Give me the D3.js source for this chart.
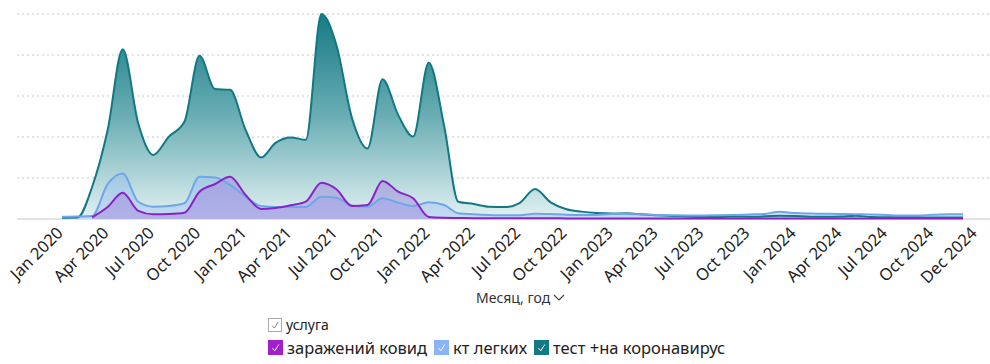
<!DOCTYPE html>
<html>
<head>
<meta charset="utf-8">
<script src="https://cdn.jsdelivr.net/npm/d3@7"></script>
<style>
  body { margin: 0; background: #fff; }
  svg { display: block; font-family: "Noto Sans", "Open Sans", sans-serif; }
</style>
</head>
<body>
<div id="chart"></div>
<script>
// monthly series, Jan 2020 .. Dec 2024
const months = d3.timeMonth.range(new Date(2020, 0, 1), new Date(2025, 0, 1));

const testCovid = [
  32, 37, 780, 2170, 4140, 2330, 1560, 2010, 2370, 3980, 3170, 3150,
  2170, 1500, 1850, 1990, 1930, 5000, 4240, 2460, 1720, 3410, 2540, 2010,
  3810, 2250, 420, 365, 300, 290, 390, 730, 407, 244, 180, 146,
  134, 139, 115, 90, 73, 61, 49, 49, 61, 56, 65, 80,
  73, 56, 54, 61, 80, 49, 41, 41, 41, 37, 37, 37
];
const ctLungs = [
  56, 61, 73, 850, 1110, 420, 300, 317, 383, 1030, 1010, 830,
  545, 317, 293, 293, 293, 545, 520, 330, 300, 505, 400, 317,
  407, 341, 139, 115, 98, 90, 90, 130, 122, 105, 98, 98,
  122, 122, 110, 98, 90, 85, 85, 90, 98, 110, 122, 178,
  146, 134, 129, 122, 115, 110, 98, 85, 85, 102, 115, 115
];
const infections = [
  null, null, 41, 293, 640, 200, 115, 122, 154, 666, 854, 1030,
  585, 244, 268, 334, 422, 885, 724, 317, 341, 927, 666, 505,
  49, 30, 25, 20, 20, 18, 18, 20, 18, 15, 15, 15,
  12, 12, 12, 12, 12, 12, 12, 12, 12, 12, 12, 12,
  12, 12, 12, 12, 12, 12, 12, 12, 12, 12, 12, 12
];

const tickLabels = [
  "Jan 2020", "Apr 2020", "Jul 2020", "Oct 2020", "Jan 2021", "Apr 2021",
  "Jul 2021", "Oct 2021", "Jan 2022", "Apr 2022", "Jul 2022", "Oct 2022",
  "Jan 2023", "Apr 2023", "Jul 2023", "Oct 2023", "Jan 2024", "Apr 2024",
  "Jul 2024", "Oct 2024", "Dec 2024"
];
const gridValues = [1000, 2000, 3000, 4000, 5000];

const legendTitle = "услуга";
const seriesNames = ["заражений ковид", "кт легких", "тест +на коронавирус"];
const seriesColors = ["#a020d0", "#8ab4f8", "#137a85"];

const width = 990;
const height = 364;

const svg = d3.select("#chart").append("svg")
  .attr("width", width)
  .attr("height", height);

const x = d3.scaleTime()
  .domain([months[0], months[months.length - 1]])
  .range([62, 963]);

const y = d3.scaleLinear()
  .domain([0, 5000])
  .range([219, 14]);

const defs = svg.append("defs");
const tealGrad = defs.append("linearGradient")
  .attr("id", "tealGrad")
  .attr("gradientUnits", "userSpaceOnUse")
  .attr("x1", 0).attr("x2", 0)
  .attr("y1", y(5000)).attr("y2", y(0));
tealGrad.append("stop").attr("offset", "0%").attr("stop-color", "#167a84");
tealGrad.append("stop").attr("offset", "50%").attr("stop-color", "#6aaeb4");
tealGrad.append("stop").attr("offset", "100%").attr("stop-color", "#e2f1f2");

// gridlines
svg.append("g")
  .selectAll("line")
  .data(gridValues)
  .join("line")
  .attr("x1", 17)
  .attr("x2", 990)
  .attr("y1", d => y(d))
  .attr("y2", d => y(d))
  .attr("stroke", "#c8c8c8")
  .attr("stroke-dasharray", "2,3");

// baseline
svg.append("line")
  .attr("x1", 17)
  .attr("x2", 990)
  .attr("y1", y(0))
  .attr("y2", y(0))
  .attr("stroke", "#c8c8c8")
  .attr("stroke-width", 1);

const curve = d3.curveMonotoneX;

function area(values) {
  return d3.area()
    .defined((d, i) => values[i] !== null)
    .x((d, i) => x(months[i]))
    .y0(y(0))
    .y1((d, i) => y(values[i]))
    .curve(curve)(values);
}
function line(values) {
  return d3.line()
    .defined((d, i) => values[i] !== null)
    .x((d, i) => x(months[i]))
    .y((d, i) => y(values[i]))
    .curve(curve)(values);
}

svg.append("path").attr("d", area(testCovid)).attr("fill", "url(#tealGrad)");
svg.append("path").attr("d", area(ctLungs)).attr("fill", "#8fb4f5").attr("fill-opacity", 0.35);
svg.append("path").attr("d", area(infections)).attr("fill", "#9c7fdc").attr("fill-opacity", 0.45);

svg.append("path").attr("d", line(testCovid))
  .attr("fill", "none").attr("stroke", "#137883").attr("stroke-width", 2);
svg.append("path").attr("d", line(ctLungs))
  .attr("fill", "none").attr("stroke", "#6ea6ea").attr("stroke-width", 2);
svg.append("path").attr("d", line(infections))
  .attr("fill", "none").attr("stroke", "#8a22c8").attr("stroke-width", 2);

// x tick labels
const parseTick = d3.timeParse("%b %Y");
svg.append("g")
  .selectAll("text")
  .data(tickLabels)
  .join("text")
  .attr("transform", (d, i) => {
    const tx = x(parseTick(d)) + (i === tickLabels.length - 1 ? 15 : 2);
    return `translate(${tx},234) rotate(-45)`;
  })
  .attr("text-anchor", "end")
  .attr("font-size", 16.5)
  .attr("fill", "#222")
  .text(d => d);

// axis title
svg.append("text")
  .attr("x", 476)
  .attr("y", 303)
  .attr("font-size", 14)
  .attr("fill", "#333")
  .text("Месяц, год");
svg.append("path")
  .attr("d", "M554,295 L559,300 L564,295")
  .attr("fill", "none")
  .attr("stroke", "#444")
  .attr("stroke-width", 1.2);

// legend
function checkbox(g, bx, by, size, fill, border, mark) {
  g.append("rect")
    .attr("x", bx + 0.5).attr("y", by + 0.5)
    .attr("width", size - 1).attr("height", size - 1)
    .attr("fill", fill)
    .attr("stroke", border);
  g.append("path")
    .attr("d", `M${bx + size * 0.3},${by + size * 0.55} L${bx + size * 0.45},${by + size * 0.72} L${bx + size * 0.72},${by + size * 0.3}`)
    .attr("fill", "none")
    .attr("stroke", mark)
    .attr("stroke-width", 1);
}

const legend = svg.append("g");
checkbox(legend, 268, 318, 14, "#fff", "#aaa", "#888");
legend.append("text")
  .attr("x", 286).attr("y", 330)
  .attr("font-size", 14)
  .attr("fill", "#222")
  .text(legendTitle);

const itemX = [268, 434, 534];
seriesNames.forEach((name, i) => {
  checkbox(legend, itemX[i], 340, 15, seriesColors[i], seriesColors[i], "#fff");
  legend.append("text")
    .attr("x", itemX[i] + 19).attr("y", 354)
    .attr("font-size", 16.5)
    .attr("fill", "#222")
    .text(name);
});
</script>
</body>
</html>
